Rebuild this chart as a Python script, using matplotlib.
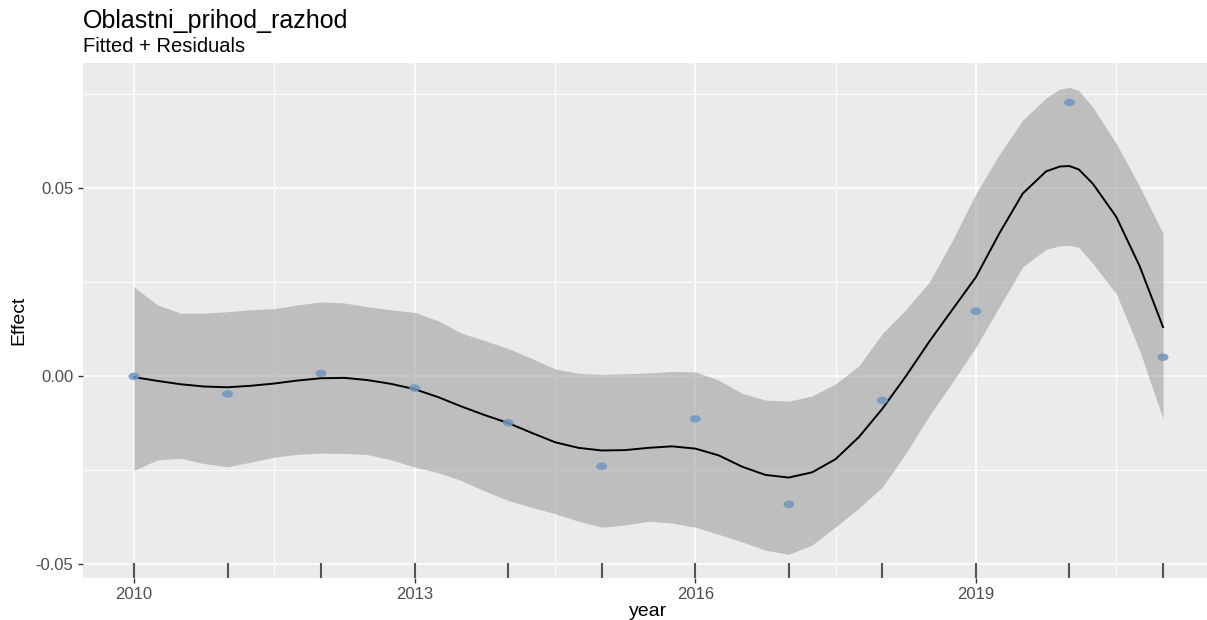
import matplotlib
matplotlib.use("Agg")
import matplotlib.pyplot as plt
import matplotlib.transforms as mtransforms
from matplotlib.path import Path
from matplotlib.markers import MarkerStyle

plt.rcParams['font.family'] = ['Liberation Sans', 'DejaVu Sans']

# Observed partial residuals
years = [2010, 2011, 2012, 2013, 2014, 2015, 2016, 2017, 2018, 2019, 2020, 2021]
resid = [0.0000, -0.0047, 0.0008, -0.0031, -0.0123, -0.0239, -0.0113, -0.0340,
         -0.0064, 0.0173, 0.0728, 0.0051]

# Fitted smooth and confidence band (read at quarter-year steps)
grid_x = [2010.00, 2010.25, 2010.50, 2010.75, 2011.00, 2011.25, 2011.50, 2011.75,
          2012.00, 2012.25, 2012.50, 2012.75, 2013.00, 2013.25, 2013.50, 2013.75,
          2014.00, 2014.25, 2014.50, 2014.75, 2015.00, 2015.25, 2015.50, 2015.75,
          2016.00, 2016.25, 2016.50, 2016.75, 2017.00, 2017.25, 2017.50, 2017.75,
          2018.00, 2018.25, 2018.50, 2018.75, 2019.00, 2019.25, 2019.50, 2019.75,
          2019.90, 2020.00, 2020.10, 2020.25, 2020.50, 2020.75, 2021.00]
fit = [-0.0002, -0.0012, -0.0021, -0.0027, -0.0029, -0.0025, -0.0019, -0.0011,
       -0.0005, -0.0004, -0.0010, -0.0020, -0.0034, -0.0055, -0.0080, -0.0103,
       -0.0124, -0.0150, -0.0175, -0.0190, -0.0197, -0.0196, -0.0190, -0.0186,
       -0.0192, -0.0210, -0.0240, -0.0262, -0.0269, -0.0255, -0.0220, -0.0161,
       -0.0086, 0.0000, 0.0092, 0.0178, 0.0264, 0.0380, 0.0486, 0.0545,
       0.0558, 0.0559, 0.0550, 0.0512, 0.0424, 0.0293, 0.0131]
upper = [0.0238, 0.0190, 0.0168, 0.0168, 0.0172, 0.0177, 0.0180, 0.0190,
         0.0198, 0.0195, 0.0185, 0.0177, 0.0170, 0.0148, 0.0115, 0.0095,
         0.0074, 0.0048, 0.0020, 0.0008, 0.0005, 0.0007, 0.0009, 0.0013,
         0.0012, -0.0010, -0.0045, -0.0063, -0.0066, -0.0052, -0.0020, 0.0028,
         0.0114, 0.0177, 0.0250, 0.0362, 0.0486, 0.0590, 0.0681, 0.0740,
         0.0764, 0.0768, 0.0760, 0.0715, 0.0619, 0.0505, 0.0380]
lower = [-0.0250, -0.0222, -0.0218, -0.0232, -0.0240, -0.0228, -0.0215, -0.0207,
         -0.0204, -0.0205, -0.0208, -0.0222, -0.0241, -0.0256, -0.0277, -0.0305,
         -0.0330, -0.0348, -0.0365, -0.0385, -0.0401, -0.0395, -0.0385, -0.0390,
         -0.0401, -0.0420, -0.0440, -0.0462, -0.0473, -0.0448, -0.0400, -0.0350,
         -0.0294, -0.0205, -0.0105, -0.0015, 0.0078, 0.0185, 0.0291, 0.0338,
         0.0347, 0.0348, 0.0343, 0.0300, 0.0220, 0.0069, -0.0113]

x_major = [2010, 2013, 2016, 2019]
x_minor = [2011.5, 2014.5, 2017.5, 2020.5]
y_major = [-0.05, 0.00, 0.05]
y_minor = [-0.025, 0.025, 0.075]

fig = plt.figure(figsize=(12.07, 6.20), dpi=100)
ax = fig.add_axes([82.5 / 1207, 42 / 620, (1214.5 - 82.5) / 1207, (578 - 63) / 620])
ax.set_facecolor('#EBEBEB')
for s in ax.spines.values():
    s.set_visible(False)

ax.set_xlim(2009.45, 2021.55)
ax.set_ylim(-0.0536, 0.0833)

ax.set_xticks(x_major)
ax.set_xticks(x_minor, minor=True)
ax.set_yticks(y_major)
ax.set_yticks(y_minor, minor=True)
ax.set_xticklabels([str(v) for v in x_major])
ax.set_yticklabels(['-0.05', '0.00', '0.05'])
ax.grid(which='major', color='white', linewidth=1.2)
ax.grid(which='minor', color='white', linewidth=0.6)
ax.set_axisbelow(True)
ax.tick_params(which='major', length=3.5, width=1.0, color='#333333',
               labelcolor='#4D4D4D', labelsize=12, pad=3)
ax.tick_params(which='minor', length=0)

ax.fill_between(grid_x, lower, upper, color='#999999', alpha=0.55, linewidth=0, zorder=2)
ax.plot(grid_x, fit, color='black', linewidth=1.4, zorder=3)

ellipse = Path.unit_circle().transformed(mtransforms.Affine2D().scale(1.45, 1.0))
ax.scatter(years, resid, s=62, marker=MarkerStyle(ellipse), color='#6F96C2',
           alpha=0.85, edgecolors='none', zorder=4)

trans = mtransforms.blended_transform_factory(ax.transData, ax.transAxes)
ax.vlines(years, 0, 15 / 515, transform=trans, color='#555555', linewidth=1.5, zorder=5)

ax.set_xlabel('year', fontsize=14, color='black', labelpad=1)
ax.set_ylabel('Effect', fontsize=14, color='black', labelpad=6)

fig.text(83 / 1207, 1 - 28 / 620, 'Oblastni_prihod_razhod', fontsize=18,
         ha='left', va='baseline', color='black')
fig.text(83 / 1207, 1 - 52 / 620, 'Fitted + Residuals', fontsize=14.5,
         ha='left', va='baseline', color='black')

fig.savefig('out.png', dpi=100)
